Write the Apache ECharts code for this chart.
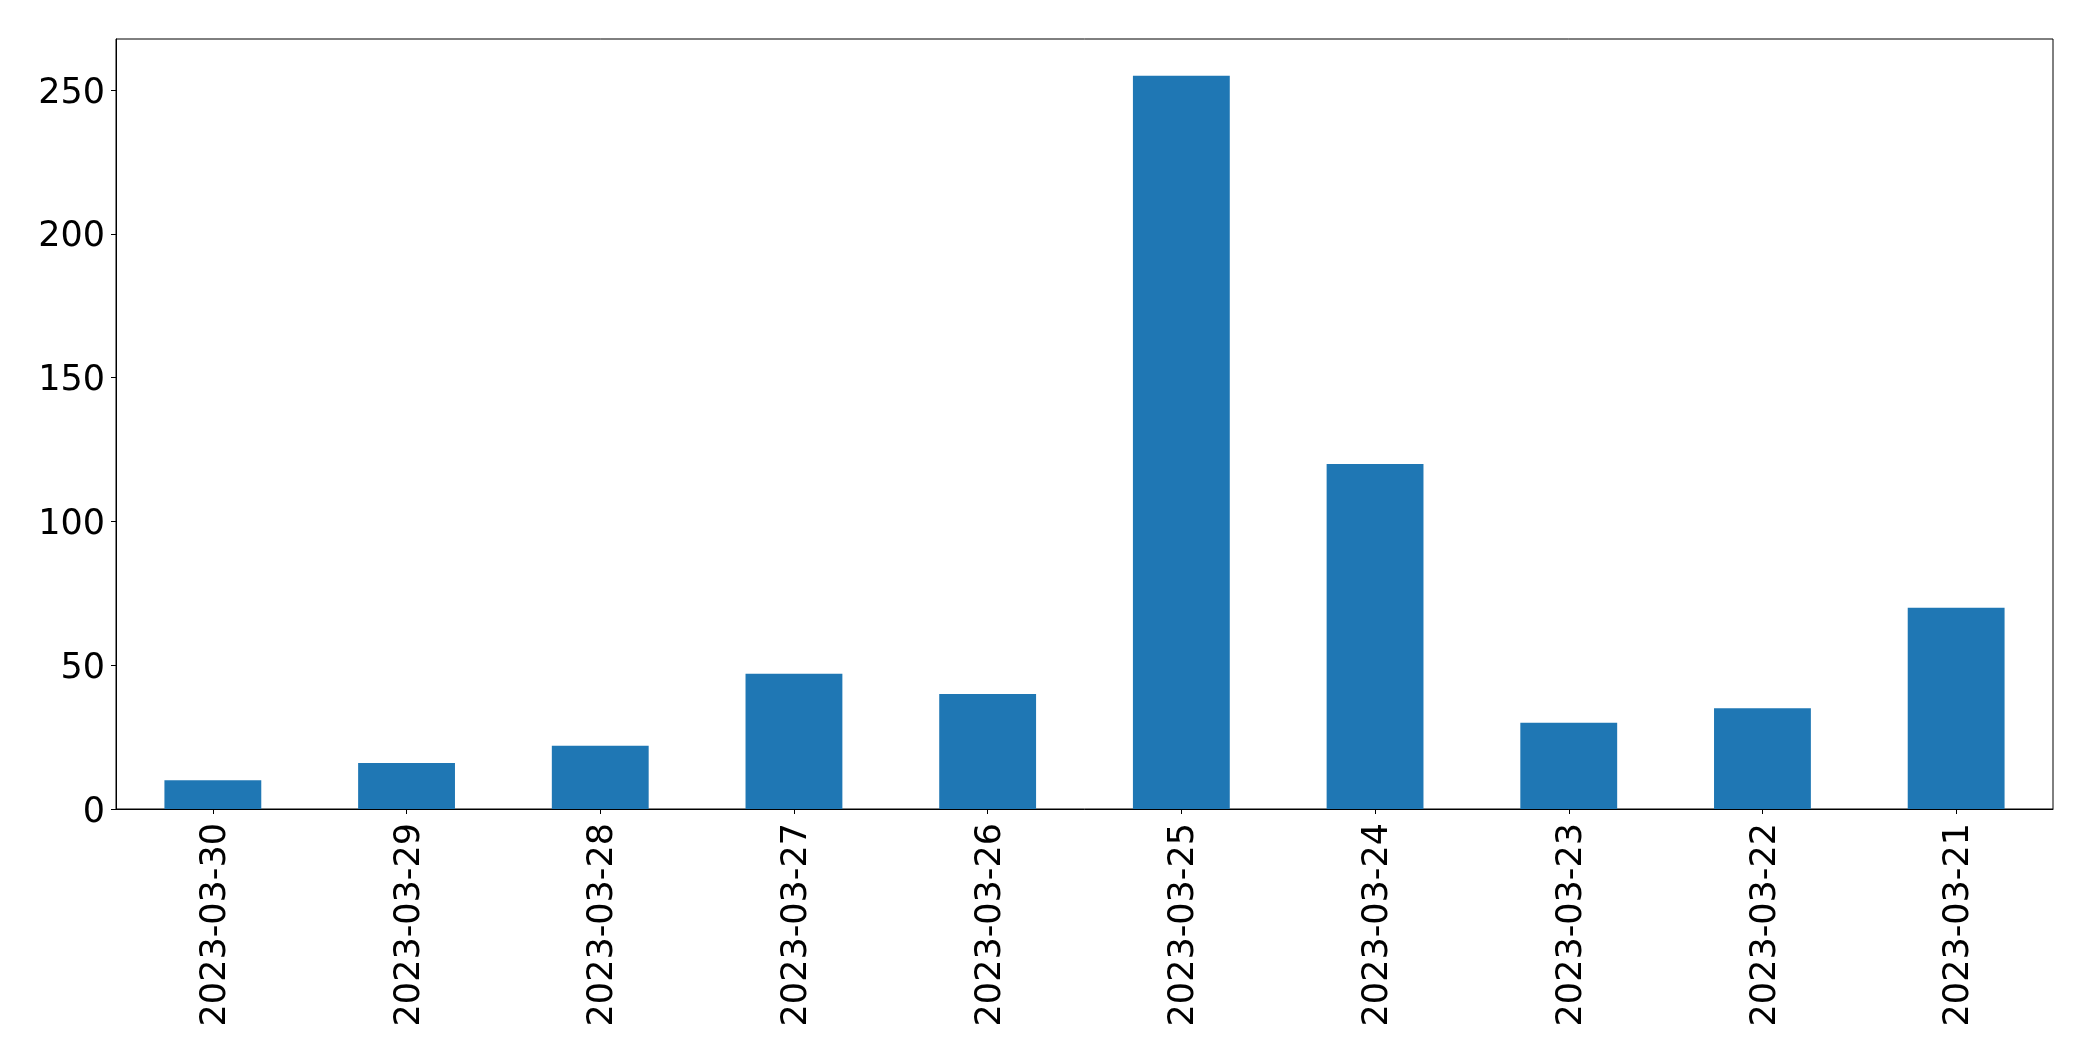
<!DOCTYPE html>
<html>
<head>
<meta charset="utf-8">
<script src="https://cdn.jsdelivr.net/npm/echarts@6/dist/echarts.min.js"></script>
<style>html,body{margin:0;padding:0;background:#fff;}#chart{width:2093px;height:1061px;}</style>
</head>
<body>
<div id="chart"></div>
<script>
const categories = ["2023-03-30","2023-03-29","2023-03-28","2023-03-27","2023-03-26","2023-03-25","2023-03-24","2023-03-23","2023-03-22","2023-03-21"];
const values = [10, 16, 22, 47, 40, 255, 120, 30, 35, 70];
const yTicks = [0, 50, 100, 150, 200, 250];

const chart = echarts.init(document.getElementById('chart'), null, {renderer: 'canvas'});
const font = 'DejaVu Sans';
chart.setOption({
  animation: false,
  backgroundColor: '#fff',
  grid: {left: 116, top: 39, right: 40, bottom: 252, show: true, borderColor: '#000', borderWidth: 1, backgroundColor: 'transparent'},
  xAxis: {
    type: 'category',
    data: categories,
    boundaryGap: true,
    axisLine: {show: true, lineStyle: {color: '#000', width: 1}},
    axisTick: {show: true, alignWithLabel: true, length: 5, lineStyle: {color: '#000', width: 1}},
    axisLabel: {rotate: 90, color: '#000', fontSize: 35, fontFamily: font, margin: 14, interval: 0, verticalAlign: 'top', lineHeight: 6}
  },
  yAxis: {
    type: 'value',
    min: 0,
    max: 267.75,
    splitLine: {show: false},
    axisLine: {show: true, lineStyle: {color: '#000', width: 1}},
    axisTick: {show: true, length: 5, lineStyle: {color: '#000', width: 1}, customValues: yTicks},
    axisLabel: {color: '#000', fontSize: 35, fontFamily: font, margin: 11, customValues: yTicks, verticalAlign: 'top', lineHeight: 7}
  },
  series: [{
    type: 'bar',
    data: values,
    barWidth: '50%',
    itemStyle: {color: '#1f77b4'}
  }]
});
</script>
</body>
</html>
